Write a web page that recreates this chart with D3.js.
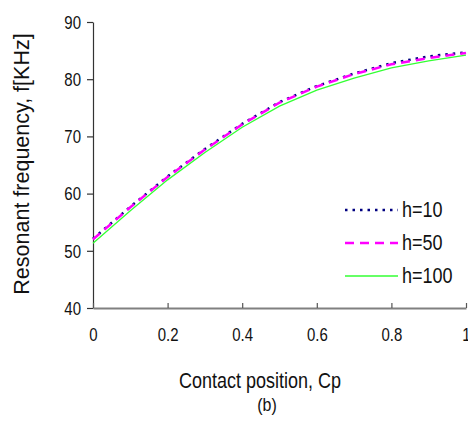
<!DOCTYPE html>
<html>
<head>
<meta charset="utf-8">
<script src="https://cdn.jsdelivr.net/npm/d3@7"></script>
<style>
  html, body { margin: 0; padding: 0; background: #fff; }
  svg { display: block; font-family: "Liberation Sans", Arial, sans-serif; }
</style>
</head>
<body>
<svg id="chart" width="468" height="432"></svg>
<script>
// Contact position Cp (x) and resonant frequency in kHz for each beam height h
const contactPos = [0, 0.1, 0.2, 0.3, 0.4, 0.5, 0.6, 0.7, 0.8, 0.9, 1.0];
const freqH10  = [52.1, 57.7, 63.0, 67.8, 72.2, 76.0, 78.8, 81.0, 82.8, 84.0, 84.7];
const freqH50  = [52.0, 57.6, 62.9, 67.7, 72.1, 75.9, 78.7, 80.9, 82.6, 83.7, 84.6];
const freqH100 = [51.3, 57.0, 62.4, 67.2, 71.6, 75.3, 78.1, 80.2, 82.0, 83.2, 84.2];

const xTicks = [0, 0.2, 0.4, 0.6, 0.8, 1];
const yTicks = [40, 50, 60, 70, 80, 90];
const seriesNames = ["h=10", "h=50", "h=100"];

const series = [
  { name: seriesNames[0], values: freqH10,  color: "#000080", width: 2.5, dash: "2.5,5" },
  { name: seriesNames[1], values: freqH50,  color: "#ff00ff", width: 2.5, dash: "9,6" },
  { name: seriesNames[2], values: freqH100, color: "#33ff33", width: 1.3, dash: null }
];

const svg = d3.select("#chart");
const stretch = 1.18; // text is drawn slightly tall

const x = d3.scaleLinear().domain([0, 1]).range([93, 466]);
const y = d3.scaleLinear().domain([40, 90]).range([308, 22]);

// y axis
const yAxis = svg.append("g")
  .attr("transform", `translate(${x(0)},0)`)
  .call(d3.axisLeft(y).tickValues(yTicks).tickSizeInner(6).tickSizeOuter(0).tickFormat(d3.format("d")));
yAxis.select(".domain").attr("stroke", "#333").attr("stroke-width", 1.2);
yAxis.selectAll(".tick line").attr("stroke", "#333").attr("stroke-width", 1.2);
yAxis.selectAll(".tick text")
  .attr("x", -12).attr("dy", null).attr("y", 6.3 / stretch)
  .attr("transform", `scale(1,${stretch})`)
  .attr("font-size", 15).attr("fill", "#111")
  .attr("font-family", "Liberation Sans, Arial, sans-serif");

// x axis
const xAxis = svg.append("g")
  .attr("transform", `translate(0,${y(40)})`)
  .call(d3.axisBottom(x).tickValues(xTicks).tickSizeInner(-5).tickSizeOuter(0).tickFormat(d3.format("~g")));
xAxis.select(".domain").attr("stroke", "#808080").attr("stroke-width", 2);
xAxis.selectAll(".tick line").attr("stroke", "#555").attr("stroke-width", 1.2);
xAxis.selectAll(".tick text")
  .attr("dy", null).attr("y", 33.5 / stretch)
  .attr("transform", `scale(1,${stretch})`)
  .attr("font-size", 15).attr("fill", "#111")
  .attr("font-family", "Liberation Sans, Arial, sans-serif");

// curves
const line = d3.line().x((d, i) => x(contactPos[i])).y(d => y(d));
series.forEach(s => {
  svg.append("path")
    .datum(s.values)
    .attr("d", line)
    .attr("fill", "none")
    .attr("stroke", s.color)
    .attr("stroke-width", s.width)
    .attr("stroke-dasharray", s.dash);
});

// legend
const legendY = [210, 243, 276];
series.forEach((s, i) => {
  svg.append("line")
    .attr("x1", 345).attr("x2", 398)
    .attr("y1", legendY[i]).attr("y2", legendY[i])
    .attr("stroke", s.color).attr("stroke-width", s.width)
    .attr("stroke-dasharray", s.dash);
  svg.append("text")
    .attr("transform", `translate(402,${legendY[i] + 6.5}) scale(1,${stretch})`)
    .attr("font-size", 18).attr("fill", "#111")
    .text(s.name);
});

// axis titles and caption
svg.append("text")
  .attr("transform", `translate(260,388) scale(1,${stretch})`)
  .attr("text-anchor", "middle").attr("font-size", 18).attr("fill", "#111")
  .text("Contact position, Cp");

svg.append("text")
  .attr("transform", `translate(267,411) scale(1,${stretch})`)
  .attr("text-anchor", "middle").attr("font-size", 16).attr("fill", "#111")
  .text("(b)");

svg.append("text")
  .attr("transform", "translate(29,164) rotate(-90)")
  .attr("text-anchor", "middle").attr("font-size", 21.5).attr("fill", "#111")
  .text("Resonant frequency, f[KHz]");
</script>
</body>
</html>
